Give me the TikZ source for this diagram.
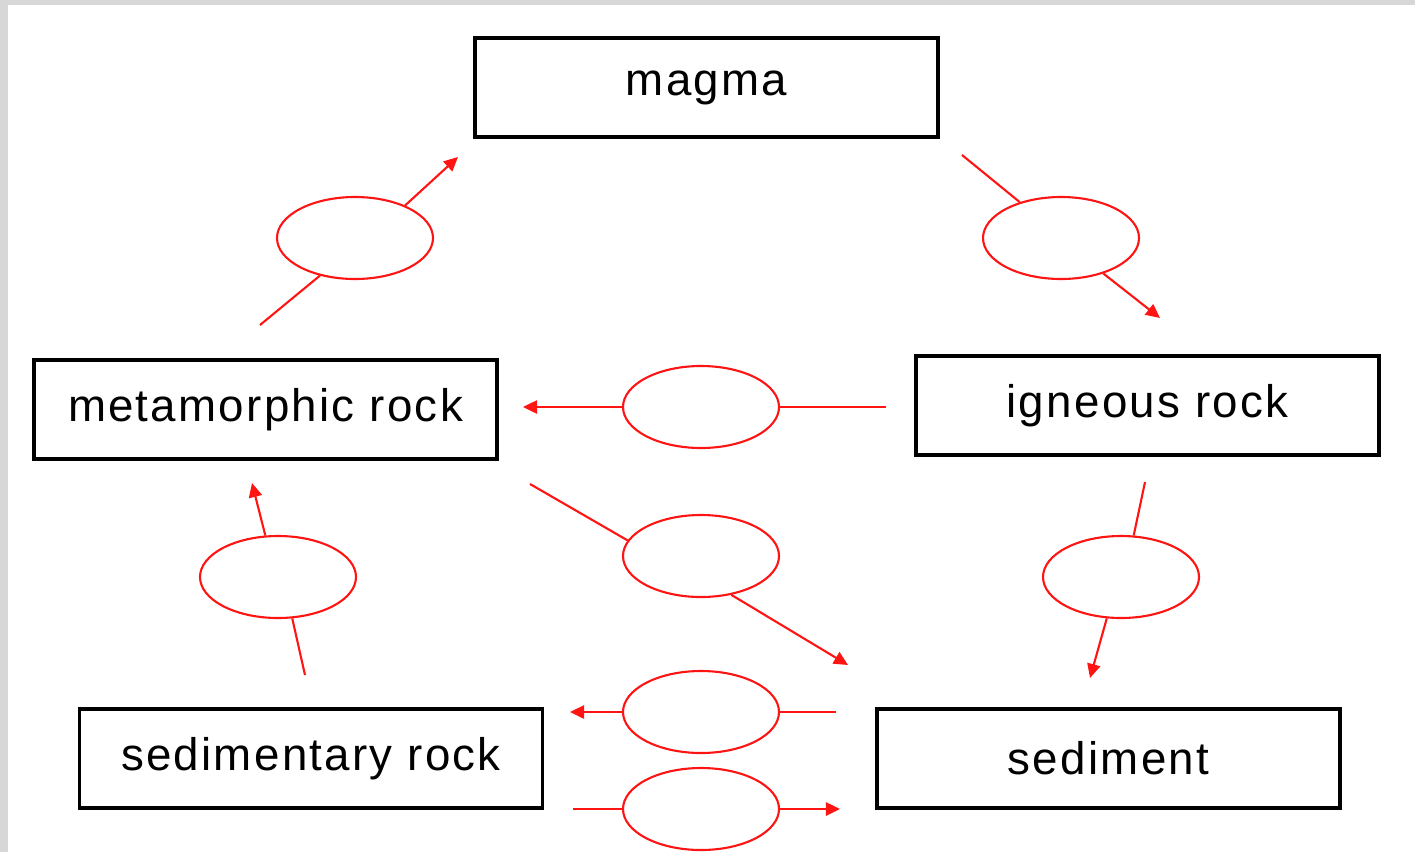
\documentclass[tikz,border=0pt]{standalone}
\usepackage{fontspec}
\setmainfont{Liberation Sans}
\usetikzlibrary{shapes.geometric,arrows.meta}
\definecolor{cyclered}{RGB}{255,20,20}
\definecolor{edgegray}{RGB}{215,215,215}
\tikzset{
  rockbox/.style={draw=black,line width=1.8pt,minimum width=463*0.02cm,minimum height=99*0.02cm,inner sep=0pt,font=\addfontfeature{LetterSpace=5}\fontsize{26}{30}\selectfont},
  procell/.style={draw=cyclered,line width=1.2pt,ellipse,minimum width=156*0.02cm,minimum height=82*0.02cm,inner sep=0pt},
  link/.style={draw=cyclered,line width=1.2pt},
  arr/.style={link,-{Triangle[length=8pt,width=7.5pt]}}
}
\begin{document}
\begin{tikzpicture}[x=0.02cm,y=-0.02cm]
\useasboundingbox (0,0) rectangle (1415,852);
\fill[white] (0,0) rectangle (1415,852);
\fill[edgegray] (0,0) rectangle (1415,5);
\fill[edgegray] (0,0) rectangle (8,852);
% rock boxes
\node[rockbox] (magma) at (706.5,87.5) {\raisebox{-3pt}{magma}};
\node[rockbox] (meta) at (265.5,409.5) {metamorphic rock};
\node[rockbox] (ign) at (1147.5,405.5) {igneous rock};
\node[rockbox] (sedr) at (311,758.5) {sedimentary rock};
\node[rockbox] (sed) at (1108.5,758.5) {sediment};
% process ellipses
\node[procell] (e1) at (355,238) {};
\node[procell] (e2) at (1061,238) {};
\node[procell] (e3) at (701,407) {};
\node[procell] (e4) at (701,556) {};
\node[procell] (e5) at (278,577) {};
\node[procell] (e6) at (1121,577) {};
\node[procell] (e7) at (701,712) {};
\node[procell] (e8) at (701,809) {};
% free ends
\coordinate (s1) at (260,325); \coordinate (t1) at (458,157);
\coordinate (s2) at (962,155); \coordinate (t2) at (1160,318);
\coordinate (s3) at (886,407); \coordinate (t3) at (523,407);
\coordinate (s4) at (530,484); \coordinate (t4) at (848,665);
\coordinate (s5) at (305,675); \coordinate (t5) at (252,483);
\coordinate (s6) at (1145,482); \coordinate (t6) at (1090,678);
\coordinate (s7) at (836,712); \coordinate (t7) at (570,712);
\coordinate (s8) at (573,809); \coordinate (t8) at (840,809);
% connectors
\draw[link] (s1) -- (e1.227); \draw[arr] (e1.33) -- (t1);
\draw[link] (s2) -- (e2.139); \draw[arr] (e2.320) -- (t2);
\draw[link] (s3) -- (e3.east); \draw[arr] (e3.west) -- (t3);
\draw[link] (s4) -- (e4.168); \draw[arr] (e4.308) -- (t4);
\draw[link] (s5) -- (e5.289); \draw[arr] (e5.107) -- (t5);
\draw[link] (s6) -- (e6.73); \draw[arr] (e6.251) -- (t6);
\draw[link] (s7) -- (e7.east); \draw[arr] (e7.west) -- (t7);
\draw[link] (s8) -- (e8.west); \draw[arr] (e8.east) -- (t8);
\end{tikzpicture}
\end{document}
